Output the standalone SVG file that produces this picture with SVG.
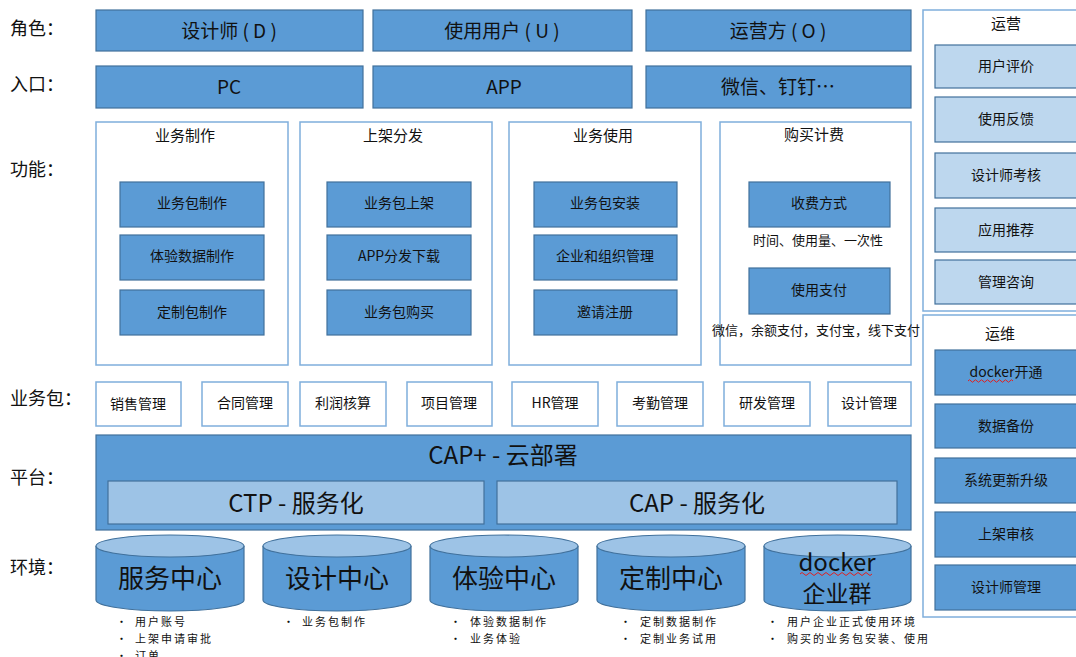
<svg xmlns="http://www.w3.org/2000/svg" width="1076" height="657" viewBox="0 0 1076 657">
<style>
text{font-family:"Noto Sans CJK SC","Liberation Sans",sans-serif;fill:#111;text-anchor:middle;dominant-baseline:central}
.lbl{font-size:18px;text-anchor:start}
.b{fill:#5B9BD5;stroke:#41719C;stroke-width:1.2}
.l{fill:#BDD7EE;stroke:#41719C;stroke-width:1.2}
.m{fill:#9DC3E6;stroke:#41719C;stroke-width:1.2}
.o{fill:#fff;stroke:#7FAEDC;stroke-width:1.5}
.t19{font-size:19px}
.t15{font-size:15px}
.t14{font-size:14px}
.t13{font-size:13px}
.t23{font-size:23px}
.t24{font-size:24px}
.t26{font-size:26px}
.bul{font-size:11px;text-anchor:start;letter-spacing:2px;dominant-baseline:auto}
.sq{fill:none;stroke:#E02020;stroke-width:1}
</style>

<g id="labels">
<text class="lbl" x="10" y="27">角色：</text>
<text class="lbl" x="10" y="83">入口：</text>
<text class="lbl" x="10" y="168">功能：</text>
<text class="lbl" x="10" y="397">业务包：</text>
<text class="lbl" x="10" y="476">平台：</text>
<text class="lbl" x="10" y="566">环境：</text>
</g>

<g id="roles">
<rect class="b" x="96" y="10" width="267" height="41"/><text class="t19" x="229" y="29">设计师 ( D )</text>
<rect class="b" x="373" y="10" width="259" height="41"/><text class="t19" x="502" y="29">使用用户 ( U )</text>
<rect class="b" x="646" y="10" width="265" height="41"/><text class="t19" x="778" y="29">运营方 ( O )</text>
</g>

<g id="entries">
<rect class="b" x="96" y="66" width="267" height="42"/><text class="t19" x="229" y="85">PC</text>
<rect class="b" x="373" y="66" width="259" height="42"/><text class="t19" x="504" y="85">APP</text>
<rect class="b" x="646" y="66" width="265" height="42"/><text class="t19" x="778" y="85">微信、钉钉…</text>
</g>

<g id="func-make">
<rect class="o" x="96" y="122" width="192" height="243"/>
<text class="t15" x="185" y="134">业务制作</text>
<rect class="b" x="120" y="182" width="144" height="45"/><text class="t14" x="192" y="202">业务包制作</text>
<rect class="b" x="120" y="235" width="144" height="45"/><text class="t14" x="192" y="255">体验数据制作</text>
<rect class="b" x="120" y="290" width="144" height="45"/><text class="t14" x="192" y="311">定制包制作</text>
</g>

<g id="func-publish">
<rect class="o" x="300" y="122" width="192" height="243"/>
<text class="t15" x="393" y="134">上架分发</text>
<rect class="b" x="327" y="182" width="144" height="45"/><text class="t14" x="399" y="202">业务包上架</text>
<rect class="b" x="327" y="235" width="144" height="45"/><text class="t14" x="399" y="255">APP分发下载</text>
<rect class="b" x="327" y="290" width="144" height="45"/><text class="t14" x="399" y="311">业务包购买</text>
</g>

<g id="func-use">
<rect class="o" x="509" y="122" width="192" height="243"/>
<text class="t15" x="603" y="134">业务使用</text>
<rect class="b" x="534" y="182" width="143" height="45"/><text class="t14" x="605" y="202">业务包安装</text>
<rect class="b" x="534" y="235" width="143" height="45"/><text class="t14" x="605" y="255">企业和组织管理</text>
<rect class="b" x="534" y="290" width="143" height="45"/><text class="t14" x="605" y="311">邀请注册</text>
</g>

<g id="func-billing">
<rect class="o" x="720" y="122" width="191" height="243"/>
<text class="t15" x="814" y="133">购买计费</text>
<rect class="b" x="749" y="182" width="141" height="45"/><text class="t14" x="819" y="202">收费方式</text>
<text class="t13" x="818" y="239">时间、使用量、一次性</text>
<rect class="b" x="749" y="268" width="141" height="46"/><text class="t14" x="819" y="289">使用支付</text>
<text class="t13" x="816" y="329">微信，余额支付，支付宝，线下支付</text>
</g>

<g id="packages">
<rect class="o" x="96" y="382" width="85" height="44"/><text class="t14" x="138" y="403">销售管理</text>
<rect class="o" x="202" y="382" width="86" height="44"/><text class="t14" x="245" y="402">合同管理</text>
<rect class="o" x="300" y="382" width="86" height="44"/><text class="t14" x="343" y="402">利润核算</text>
<rect class="o" x="407" y="382" width="85" height="44"/><text class="t14" x="449" y="402">项目管理</text>
<rect class="o" x="512" y="382" width="86" height="44"/><text class="t14" x="555" y="402">HR管理</text>
<rect class="o" x="617" y="382" width="86" height="44"/><text class="t14" x="660" y="402">考勤管理</text>
<rect class="o" x="724" y="382" width="86" height="44"/><text class="t14" x="767" y="402">研发管理</text>
<rect class="o" x="828" y="382" width="83" height="44"/><text class="t14" x="869" y="402">设计管理</text>
</g>

<g id="platform">
<rect class="b" x="96" y="435" width="815" height="95"/>
<text class="t24" x="503" y="453">CAP+ - 云部署</text>
<rect class="m" x="108" y="481" width="376" height="43"/><text class="t24" x="296" y="501">CTP - 服务化</text>
<rect class="m" x="497" y="481" width="400" height="43"/><text class="t24" x="697" y="501">CAP - 服务化</text>
</g>

<g id="env-service">
<path class="b" d="M96,546 V600 A74,11 0 0 0 244,600 V546"/>
<ellipse class="m" cx="170" cy="546" rx="74" ry="11"/>
<text class="t26" x="170" y="576">服务中心</text>
<text class="bul" x="116" y="626">•</text><text class="bul" x="135" y="626">用户账号</text>
<text class="bul" x="116" y="643">•</text><text class="bul" x="135" y="643">上架申请审批</text>
<text class="bul" x="116" y="660">•</text><text class="bul" x="135" y="660">订单</text>
</g>

<g id="env-design">
<path class="b" d="M263,546 V600 A74,11 0 0 0 411,600 V546"/>
<ellipse class="m" cx="337" cy="546" rx="74" ry="11"/>
<text class="t26" x="337" y="576">设计中心</text>
<text class="bul" x="283" y="626">•</text><text class="bul" x="302" y="626">业务包制作</text>
</g>

<g id="env-trial">
<path class="b" d="M430,546 V600 A74,11 0 0 0 578,600 V546"/>
<ellipse class="m" cx="504" cy="546" rx="74" ry="11"/>
<text class="t26" x="504" y="576">体验中心</text>
<text class="bul" x="450" y="626">•</text><text class="bul" x="470" y="626">体验数据制作</text>
<text class="bul" x="450" y="643">•</text><text class="bul" x="470" y="643">业务体验</text>
</g>

<g id="env-custom">
<path class="b" d="M597,546 V600 A74,11 0 0 0 745,600 V546"/>
<ellipse class="m" cx="671" cy="546" rx="74" ry="11"/>
<text class="t26" x="671" y="576">定制中心</text>
<text class="bul" x="620" y="626">•</text><text class="bul" x="640" y="626">定制数据制作</text>
<text class="bul" x="620" y="643">•</text><text class="bul" x="640" y="643">定制业务试用</text>
</g>

<g id="env-docker">
<path class="b" d="M764,546 V600 A73.5,11 0 0 0 911,600 V546"/>
<ellipse class="m" cx="837.5" cy="546" rx="73.5" ry="11"/>
<text class="t24" x="837" y="560">docker</text>
<path class="sq" d="M800,574 q2,-3 4,0 t4,0 t4,0 t4,0 t4,0 t4,0 t4,0 t4,0 t4,0 t4,0 t4,0 t4,0 t4,0 t4,0 t4,0 t4,0 t4,0 t4,0"/>
<text class="t23" x="837" y="592">企业群</text>
<text class="bul" x="767" y="626">•</text><text class="bul" x="787" y="626">用户企业正式使用环境</text>
<text class="bul" x="767" y="643">•</text><text class="bul" x="787" y="643">购买的业务包安装、使用</text>
</g>

<g id="operation">
<rect class="o" x="923" y="10" width="170" height="301"/>
<text class="t15" x="1006" y="22">运营</text>
<rect class="l" x="935" y="45" width="143" height="43"/><text class="t14" x="1006" y="65">用户评价</text>
<rect class="l" x="935" y="97" width="143" height="45"/><text class="t14" x="1006" y="118">使用反馈</text>
<rect class="l" x="935" y="153" width="143" height="45"/><text class="t14" x="1006" y="174">设计师考核</text>
<rect class="l" x="935" y="208" width="143" height="44"/><text class="t14" x="1006" y="229">应用推荐</text>
<rect class="l" x="935" y="260" width="143" height="44"/><text class="t14" x="1006" y="281">管理咨询</text>
</g>

<g id="maintenance">
<rect class="o" x="923" y="315" width="170" height="302"/>
<text class="t15" x="1000" y="332">运维</text>
<rect class="b" x="935" y="350" width="143" height="45"/><text class="t14" x="1006" y="371">docker开通</text>
<path class="sq" d="M968,381 q1.5,-2.5 3,0 t3,0 t3,0 t3,0 t3,0 t3,0 t3,0 t3,0 t3,0 t3,0 t3,0 t3,0 t3,0 t3,0 t3,0"/>
<rect class="b" x="935" y="404" width="143" height="44"/><text class="t14" x="1006" y="425">数据备份</text>
<rect class="b" x="935" y="458" width="143" height="45"/><text class="t14" x="1006" y="479">系统更新升级</text>
<rect class="b" x="935" y="512" width="143" height="45"/><text class="t14" x="1006" y="533">上架审核</text>
<rect class="b" x="935" y="565" width="143" height="45"/><text class="t14" x="1006" y="586">设计师管理</text>
</g>
</svg>
